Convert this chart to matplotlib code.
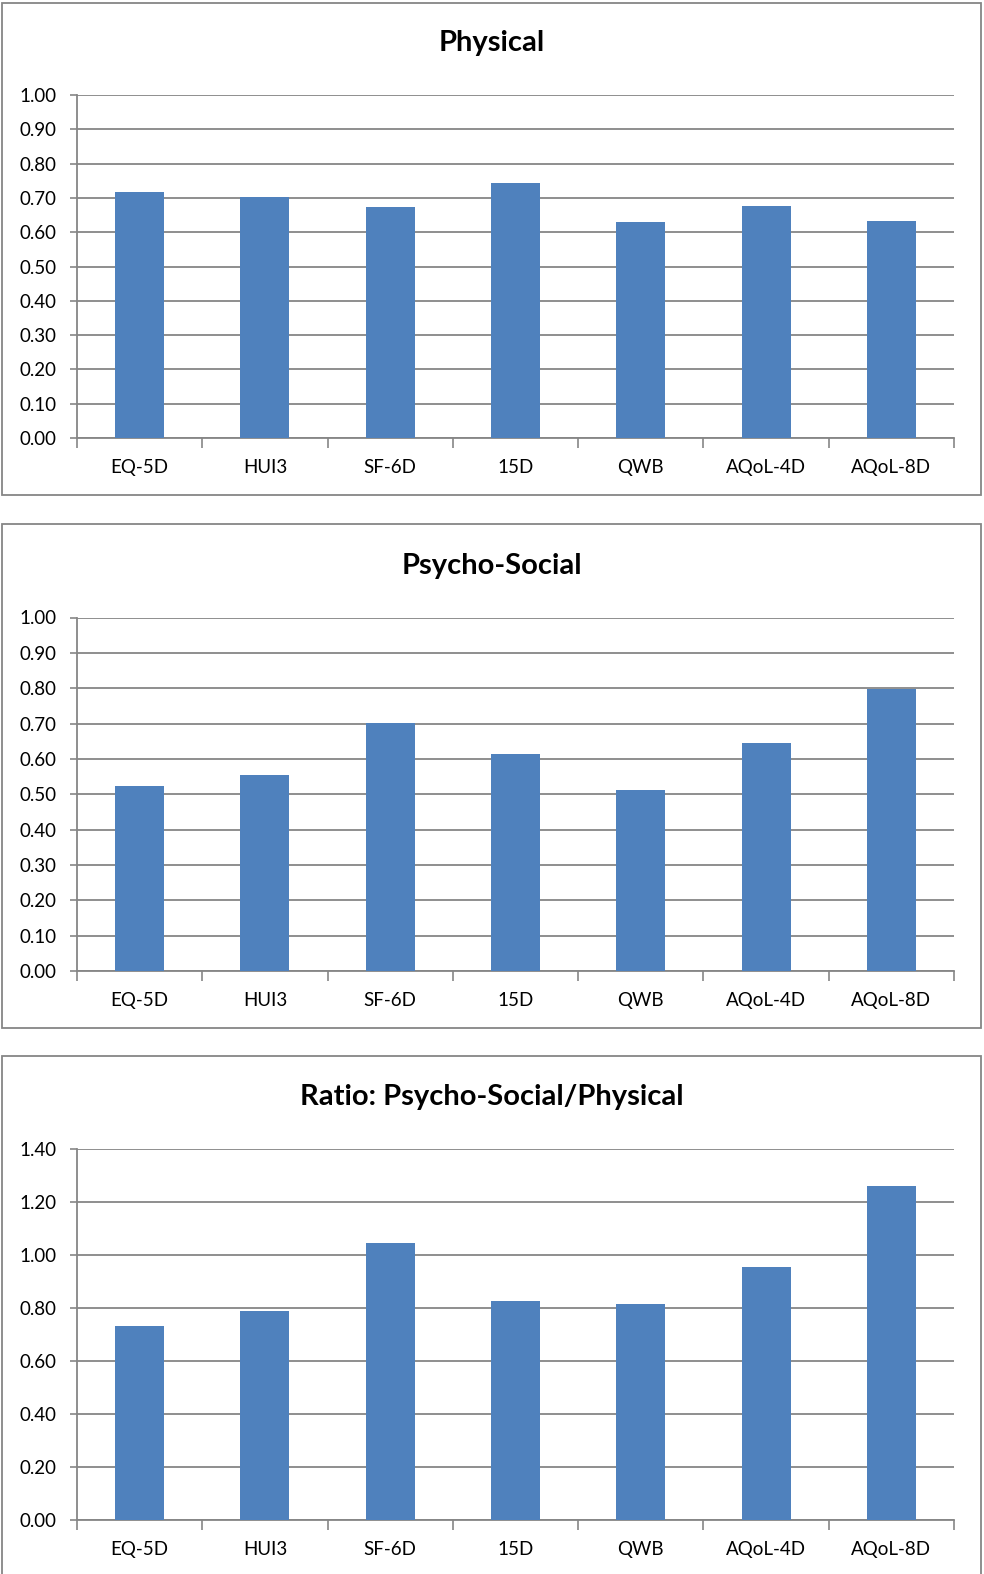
import matplotlib.pyplot as plt
from matplotlib.patches import Rectangle
import numpy as np

# values
instruments = ["EQ-5D", "HUI3", "SF-6D", "15D", "QWB", "AQoL-4D", "AQoL-8D"]
physical = [0.716, 0.702, 0.673, 0.743, 0.629, 0.676, 0.632]
psycho_social = [0.523, 0.554, 0.702, 0.614, 0.512, 0.646, 0.798]
ratio = [0.731, 0.788, 1.042, 0.826, 0.814, 0.952, 1.257]

titles = ["Physical", "Psycho-Social", "Ratio: Psycho-Social/Physical"]

W, H = 984, 1574
BAR = "#4F81BD"
GRID = "#868686"

plt.rcParams['font.family'] = ['Lato', 'DejaVu Sans']

fig = plt.figure(figsize=(W / 100, H / 100), dpi=100)


def px_box(left, top, right, bottom):
    return [left / W, 1 - bottom / H, (right - left) / W, (bottom - top) / H]


# panel frames (pixel coords) and axes boxes
frames = [(2, 3, 981, 495), (2, 524, 981, 1028), (2, 1056, 981, 1600)]
boxes = [(77, 95, 954, 438), (77, 617.5, 954, 971), (77, 1148.5, 954, 1520)]
title_y = [43, 566, 1097]
series = [physical, psycho_social, ratio]
yticks = [np.arange(0, 1.01, 0.1), np.arange(0, 1.01, 0.1), np.arange(0, 1.41, 0.2)]
ylims = [1.0, 1.0, 1.4]

for fr in frames:
    l, t, r, b = fr
    fig.patches.append(Rectangle((l / W, 1 - b / H), (r - l) / W, (b - t) / H,
                                 transform=fig.transFigure, fill=False,
                                 edgecolor=GRID, linewidth=1.3))

x = np.arange(len(instruments))
for i in range(3):
    ax = fig.add_axes(px_box(*boxes[i]))
    ax.bar(x, series[i], width=0.39, color=BAR, zorder=3)
    ax.set_xlim(-0.5, len(instruments) - 0.5)
    ax.set_ylim(0, ylims[i])
    ax.set_yticks(yticks[i])
    ax.set_yticklabels(["%.2f" % v for v in yticks[i]])
    ax.set_xticks(x)
    ax.set_xticklabels(instruments)
    ax.set_xticks(np.arange(-0.5, len(instruments)), minor=True)
    ax.tick_params(axis='x', which='major', length=0, pad=15, labelsize=13.5)
    ax.tick_params(axis='x', which='minor', length=7, color=GRID, width=1.2)
    ax.tick_params(axis='y', length=5, color=GRID, width=1.2, pad=10, labelsize=13.5)
    ax.grid(axis='y', color=GRID, linewidth=1.3, zorder=0)
    for s in ['top', 'right']:
        ax.spines[s].set_visible(False)
    for s in ['left', 'bottom']:
        ax.spines[s].set_color(GRID)
        ax.spines[s].set_linewidth(1.3)
    fig.text(0.5, 1 - title_y[i] / H, titles[i], ha='center', va='center',
             fontsize=21, fontweight='bold')

fig.savefig("out.png", dpi=100)
